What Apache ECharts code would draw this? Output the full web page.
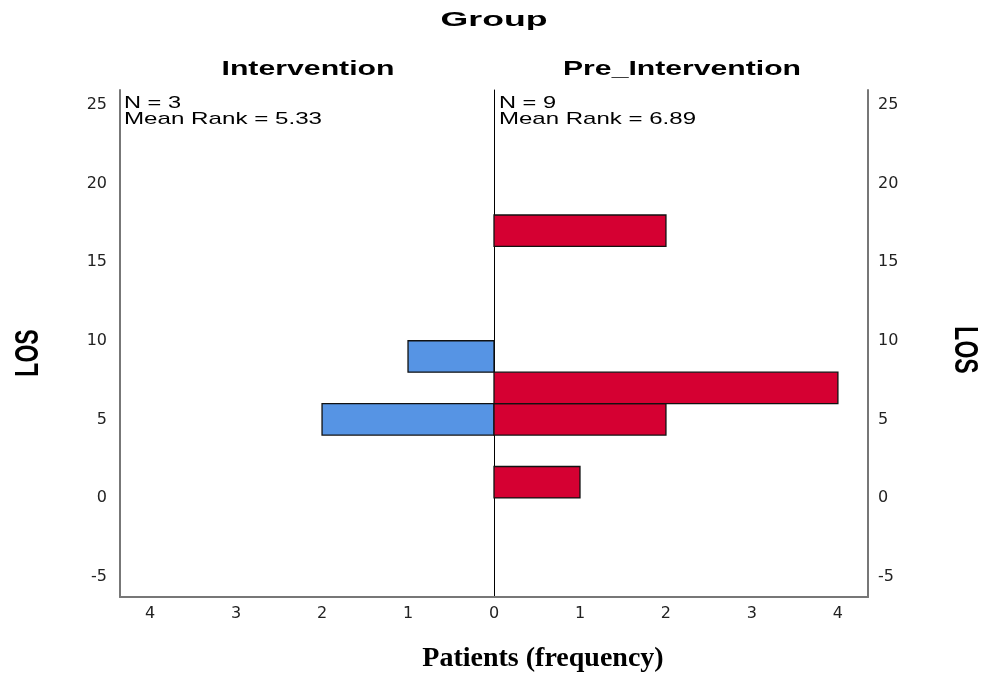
<!DOCTYPE html>
<html><head><meta charset="utf-8">
<script src="https://cdn.jsdelivr.net/npm/echarts@6/dist/echarts.min.js"></script>
<style>html,body{margin:0;padding:0;background:#fff}#c{width:984px;height:679px}</style>
</head><body><div id="c"></div>
<script>
// ---- data ----
const groupTitle = 'Group';
const panelNames = ['Intervention', 'Pre_Intervention'];
const nValues = [3, 9];
const meanRanks = ['5.33', '6.89'];
// Intervention histogram bins (LOS lower edge, upper edge, frequency)
const intLow = [4, 8];
const intHigh = [6, 10];
const intCount = [2, 1];
// Pre_Intervention histogram bins
const preLow = [0, 4, 6, 16];
const preHigh = [2, 6, 8, 18];
const preCount = [1, 2, 4, 2];
const yTicks = [-5, 0, 5, 10, 15, 20, 25];
const leftXTicks = [1, 2, 3, 4];
const rightXTicks = [0, 1, 2, 3, 4];
const yName = 'LOS';
const xName = 'Patients (frequency)';

// ---- helpers ----
const mctx = document.createElement('canvas').getContext('2d');
function fit(text, font, w) { mctx.font = font; return w / mctx.measureText(text).width; }
function bins(lo, hi, c) { return lo.map((v, i) => [lo[i], hi[i], c[i]]); }

function renderBar(params, api) {
  const lo = api.value(0), hi = api.value(1), c = api.value(2);
  const p0 = api.coord([0, lo]);
  const p1 = api.coord([c, hi]);
  return {
    type: 'rect',
    shape: { x: Math.min(p0[0], p1[0]), y: p1[1], width: Math.abs(p1[0] - p0[0]), height: p0[1] - p1[1] },
    style: api.style({ stroke: '#111', lineWidth: 1.3 })
  };
}

const SANS = '"Liberation Sans", Arial, sans-serif';
const FRAME = '#777';
const labelStyle = { color: '#222', fontFamily: '"DejaVu Sans", sans-serif', fontSize: 16 };

function xAxisCfg(gi, inv, ticks) {
  return {
    type: 'value', gridIndex: gi, inverse: inv, min: 0, max: 4.35,
    axisLine: { show: true, onZero: false, lineStyle: { color: FRAME, width: 2 } },
    axisTick: { show: false }, splitLine: { show: false },
    axisLabel: Object.assign({ margin: 9, customValues: ticks }, labelStyle)
  };
}
function yAxisCfg(gi, pos, showLabels, lineColor, lw, margin) {
  return {
    type: 'value', gridIndex: gi, position: pos, min: -6.3, max: 25.95,
    axisLine: { show: true, onZero: false, lineStyle: { color: lineColor, width: lw } },
    axisTick: { show: false }, splitLine: { show: false },
    axisLabel: Object.assign({ show: showLabels, margin: margin, customValues: yTicks }, labelStyle)
  };
}

function txt(text, x, y, font, align, opts) {
  return Object.assign({
    type: 'text', x: x, y: y, silent: true,
    style: { text: text, font: font, fill: '#000', align: align, verticalAlign: 'middle' }
  }, opts || {});
}

const fGroup = 'bold 21px ' + SANS;
const fPanel = 'bold 20px ' + SANS;
const fStat = '17px ' + SANS;
const fLos = 'bold 23px ' + SANS;

const graphics = [
  txt(groupTitle, 494, 20, fGroup, 'center', { scaleX: fit(groupTitle, fGroup, 107) }),
  txt(panelNames[0], 308, 69, fPanel, 'center', { scaleX: fit(panelNames[0], fPanel, 173) }),
  txt(panelNames[1], 682, 69, fPanel, 'center', { scaleX: fit(panelNames[1], fPanel, 238) }),
  txt('N = ' + nValues[0], 124, 103, fStat, 'left', { scaleX: fit('N = ' + nValues[0], fStat, 57) }),
  txt('Mean Rank = ' + meanRanks[0], 124, 119, fStat, 'left', { scaleX: fit('Mean Rank = ' + meanRanks[0], fStat, 198) }),
  txt('N = ' + nValues[1], 499, 103, fStat, 'left', { scaleX: fit('N = ' + nValues[1], fStat, 57) }),
  txt('Mean Rank = ' + meanRanks[1], 499, 119, fStat, 'left', { scaleX: fit('Mean Rank = ' + meanRanks[1], fStat, 197) }),
  txt(yName, 29, 353, fLos, 'center', { rotation: Math.PI / 2, scaleY: 1.45 }),
  txt(yName, 964, 350, fLos, 'center', { rotation: -Math.PI / 2, scaleY: 1.45 }),
  txt(xName, 543, 659, 'bold 28px "Liberation Serif", "Times New Roman", serif', 'center', {})
];

const chart = echarts.init(document.getElementById('c'), null, { renderer: 'canvas' });
chart.setOption({
  animation: false,
  backgroundColor: '#fff',
  grid: [
    { left: 120, top: 90, width: 374, height: 507 },
    { left: 494, top: 90, width: 374, height: 507 }
  ],
  xAxis: [xAxisCfg(0, true, leftXTicks), xAxisCfg(1, false, rightXTicks)],
  yAxis: [
    yAxisCfg(0, 'left', true, FRAME, 2, 13),
    yAxisCfg(1, 'right', true, FRAME, 2, 10),
    yAxisCfg(1, 'left', false, '#000', 1, 8)
  ],
  series: [
    { type: 'custom', name: panelNames[0], xAxisIndex: 0, yAxisIndex: 0, renderItem: renderBar,
      encode: { x: 2, y: [0, 1] }, itemStyle: { color: '#5694E4' }, data: bins(intLow, intHigh, intCount) },
    { type: 'custom', name: panelNames[1], xAxisIndex: 1, yAxisIndex: 1, renderItem: renderBar,
      encode: { x: 2, y: [0, 1] }, itemStyle: { color: '#D50032' }, data: bins(preLow, preHigh, preCount) }
  ],
  graphic: graphics
});
</script></body></html>
